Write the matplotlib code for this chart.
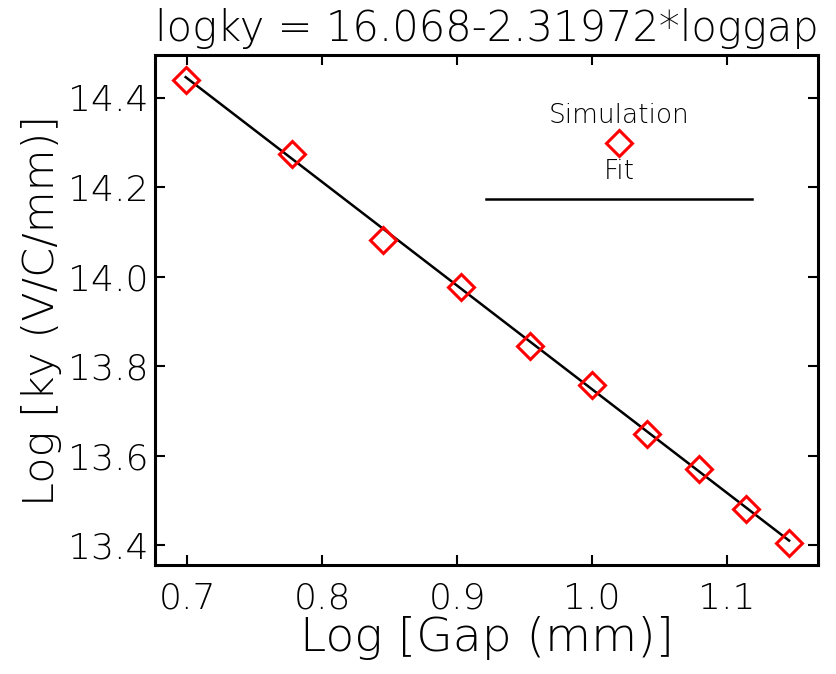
import numpy as np
import matplotlib
matplotlib.use('Agg')
import matplotlib.pyplot as plt

# simulated points, log gap (mm) vs log ky (V/C/mm)
log_gap = [0.699, 0.778, 0.845, 0.903, 0.954, 1.000, 1.041, 1.079, 1.114, 1.146]
log_ky = [14.440, 14.275, 14.082, 13.978, 13.845, 13.758, 13.648, 13.570, 13.481, 13.405]

# linear fit coefficients
fit_a = 16.068
fit_b = -2.31972

xticks = [0.7, 0.8, 0.9, 1.0, 1.1]
yticks = [13.4, 13.6, 13.8, 14.0, 14.2, 14.4]

plt.rcParams['font.family'] = 'DejaVu Sans'
plt.rcParams['font.weight'] = 'light'

fig = plt.figure(figsize=(8.37, 6.74), dpi=100)
ax = fig.add_axes([0.1852, 0.1617, 0.9773 - 0.1852, 0.9184 - 0.1617])

gx = np.array(log_gap)
ax.plot(gx, fit_a + fit_b * gx, color='black', lw=1.8, zorder=2)
ax.plot(log_gap, log_ky, ls='none', marker='D', ms=13.5, mfc='none',
        mec='red', mew=2.2, zorder=3)

# legend drawn by hand, IDL style
ax.text(1.02, 14.36, 'Simulation', ha='center', va='center', fontsize=19)
ax.plot([1.02], [14.30], ls='none', marker='D', ms=13.5, mfc='none',
        mec='red', mew=2.2)
ax.text(1.02, 14.235, 'Fit', ha='center', va='center', fontsize=19)
ax.plot([0.9215, 1.1185], [14.174, 14.174], color='black', lw=1.8)

ax.set_xlim(0.6763, 1.1674)
ax.set_ylim(13.355, 14.496)
ax.set_xticks(xticks)
ax.set_xticklabels(['%.1f' % t for t in xticks])
ax.set_yticks(yticks)
ax.set_yticklabels(['%.1f' % t for t in yticks])
ax.tick_params(direction='in', length=7, width=1.5, top=True, right=True,
               labelsize=26)
ax.tick_params(axis='x', pad=12)
ax.tick_params(axis='y', pad=5)
for s in ax.spines.values():
    s.set_linewidth(2.2)

ax.set_xlabel('Log [Gap (mm)]', fontsize=34, fontweight='light', labelpad=0)
ax.set_ylabel('Log [ky (V/C/mm)]', fontsize=31, fontweight='light', labelpad=4)
ax.set_title('logky = 16.068-2.31972*loggap', fontsize=30, fontweight='light', pad=10)

fig.savefig('out.png', dpi=100)
